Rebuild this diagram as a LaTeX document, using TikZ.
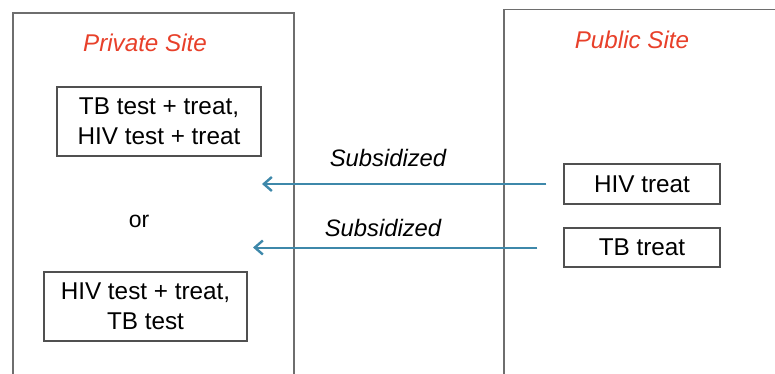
\documentclass[tikz,border=0pt]{standalone}
\usepackage{fontspec}
\setmainfont{Liberation Sans}
\usetikzlibrary{arrows.meta}
\definecolor{sitered}{HTML}{E8402A}
\definecolor{arrowblue}{HTML}{3E88AA}
\definecolor{framegray}{HTML}{6E6E6E}
\definecolor{boxgray}{HTML}{505050}
\tikzset{
  site/.style={draw=framegray, line width=1.4pt},
  sitelabel/.style={text=sitered, font=\fontsize{24.2}{28}\selectfont\itshape, inner sep=0pt},
  item/.style={draw=boxgray, line width=1.1pt, align=center, inner sep=0pt,
    font=\fontsize{24.3}{30}\selectfont},
  sublabel/.style={font=\fontsize{23.8}{28}\selectfont\itshape, inner sep=0pt},
  flow/.style={draw=arrowblue, line width=2pt, -{Straight Barb[length=8pt,width=14pt,line width=2.4pt]}}
}
\begin{document}
\begin{tikzpicture}[x=1pt,y=-1pt]
\useasboundingbox (0,0) rectangle (775,374);
\fill[white] (0,0) rectangle (775,374);
% outer site frames
\draw[site] (13,400) -- (13,13) -- (294,13) -- (294,400);
\draw[site] (504,400) -- (504,9.5) -- (800,9.5);
% site labels
\node[sitelabel] (priv) at (145,43) {Private Site};
\node[sitelabel] (pub) at (632,40) {Public Site};
% private options
\node[item, minimum width=204pt, minimum height=69pt] (b1) at (159,121.5) {TB test + treat,\\HIV test + treat};
\node[font=\fontsize{23}{26}\selectfont, inner sep=0pt] (or) at (139,221) {or};
\node[item, minimum width=203pt, minimum height=69pt] (b2) at (145.5,306.5) {HIV test + treat,\\TB test};
% public items
\node[item, minimum width=156pt, minimum height=40pt] (hiv) at (642,184) {HIV treat};
\node[item, minimum width=156pt, minimum height=39pt] (tb) at (642,247.5) {TB treat};
% arrows
\coordinate (t1) at (262,184);
\coordinate (t2) at (253,247.5);
\draw[flow] ([xshift=-17pt]hiv.west) -- (t1);
\draw[flow] ([xshift=-26pt]tb.west) -- (t2);
\node[sublabel] (s1) at (388,158) {Subsidized};
\node[sublabel] (s2) at (383,228) {Subsidized};
\end{tikzpicture}
\end{document}
